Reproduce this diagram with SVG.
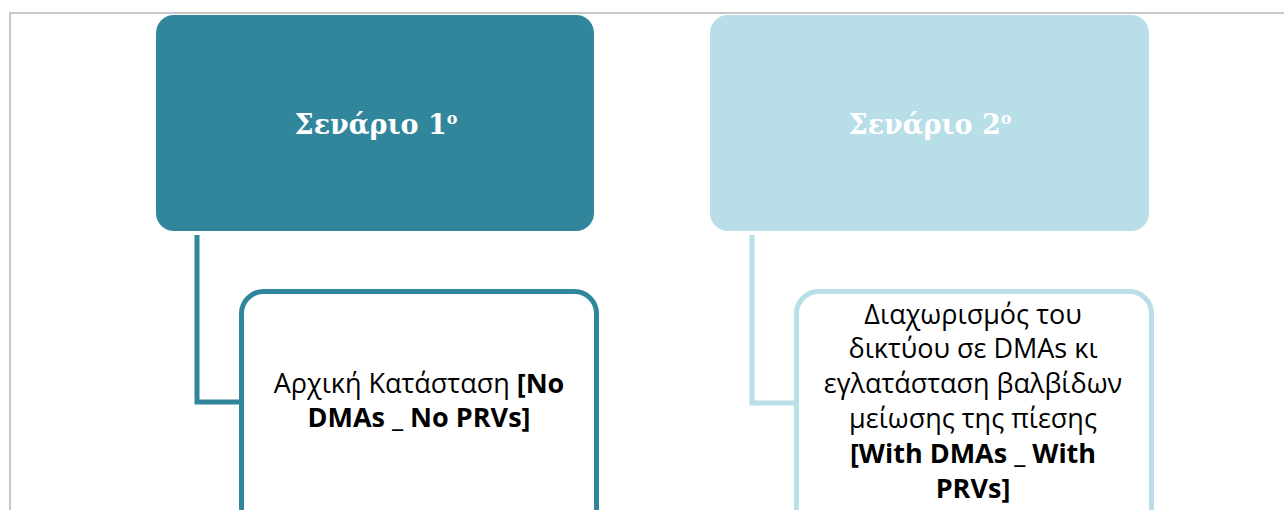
<svg xmlns="http://www.w3.org/2000/svg" width="1284" height="510" viewBox="0 0 1284 510">
<style>
.frame{fill:none;stroke:#c8c8c8;stroke-width:2}
.title{font-family:"DejaVu Serif","Liberation Serif",serif;font-weight:bold;font-size:27px;fill:#ffffff;text-anchor:middle}
.sup{font-size:16px}
.body{font-family:"Open Sans","Liberation Sans",sans-serif;font-size:27px;fill:#000000;text-anchor:middle}
.b{font-weight:bold}
.c1{fill:none;stroke:#32869c;stroke-width:5}
.c2{fill:none;stroke:#b8dee8;stroke-width:5}
</style>
<rect width="1284" height="510" fill="#ffffff"/>
<path class="frame" d="M10 510 V13 H1284"/>
<g id="connectors">
<path class="c1" d="M197 235 V402 H242"/>
<path class="c2" d="M752 235 V403 H797"/>
</g>
<g id="scenario1">
<rect x="156" y="15" width="438" height="216" rx="18" fill="#32869c"/>
<text class="title" x="376" y="134">Σενάριο 1<tspan class="sup" dy="-10">ο</tspan></text>
</g>
<g id="scenario2">
<rect x="710" y="15" width="439" height="216" rx="18" fill="#b8dee8"/>
<text class="title" x="930" y="134">Σενάριο 2<tspan class="sup" dy="-10">ο</tspan></text>
</g>
<g id="state1">
<rect x="241.5" y="291.5" width="355" height="240" rx="22" fill="#ffffff" class="c1"/>
<text class="body" x="419" y="393">Αρχική Κατάσταση <tspan class="b">[No</tspan></text>
<text class="body b" x="419" y="427">DMAs _ No PRVs]</text>
</g>
<g id="state2">
<rect x="796.5" y="291.5" width="355" height="240" rx="22" fill="#ffffff" class="c2"/>
<text class="body" x="973" y="324">Διαχωρισμός του</text>
<text class="body" x="973" y="358">δικτύου σε DMAs κι</text>
<text class="body" x="973" y="393">εγλατάσταση βαλβίδων</text>
<text class="body" x="973" y="428">μείωσης της πίεσης</text>
<text class="body b" x="973" y="463">[With DMAs _ With</text>
<text class="body b" x="973" y="498">PRVs]</text>
</g>
</svg>
